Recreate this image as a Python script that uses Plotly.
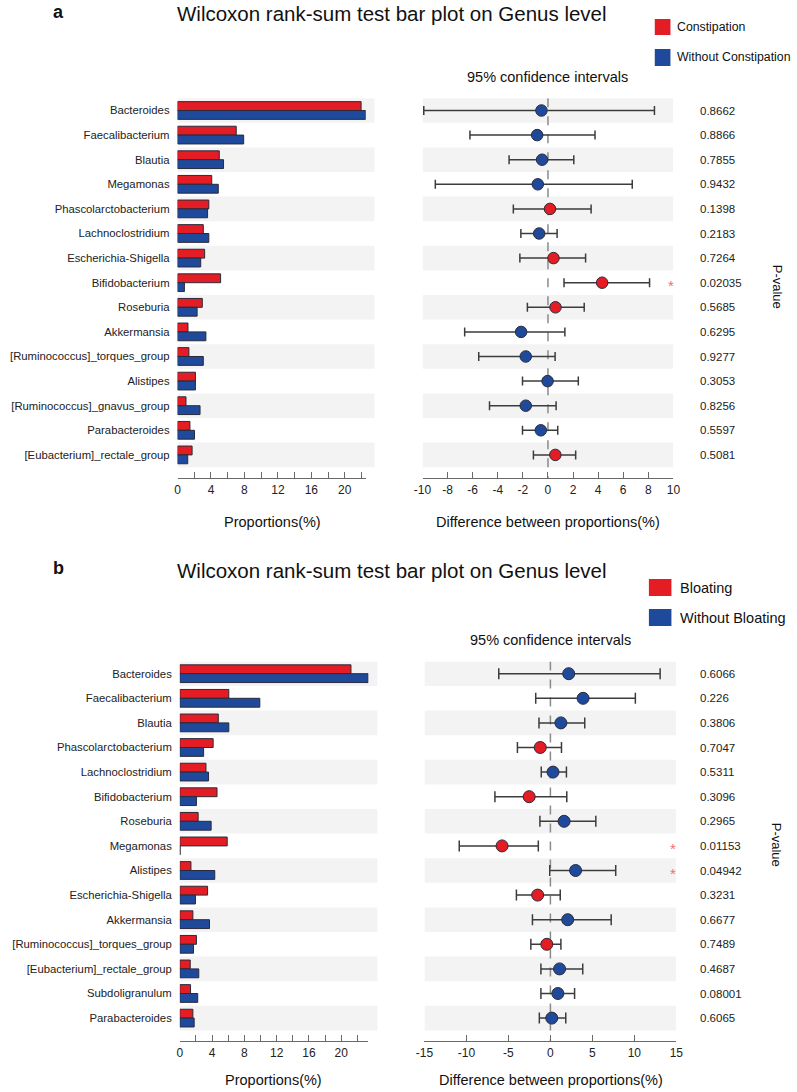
import plotly.graph_objects as go

W, H = 797, 1092
RED = "#e41c24"
BLUE = "#1f4a9c"
EDGE = "#2a2a3a"
STRIPE = "#f3f3f3"
FONT = "Liberation Sans, Arial, sans-serif"

# ---------------- Panel a data ----------------
genus_a = ["Bacteroides", "Faecalibacterium", "Blautia", "Megamonas", "Phascolarctobacterium",
           "Lachnoclostridium", "Escherichia-Shigella", "Bifidobacterium", "Roseburia", "Akkermansia",
           "[Ruminococcus]_torques_group", "Alistipes", "[Ruminococcus]_gnavus_group", "Parabacteroides",
           "[Eubacterium]_rectale_group"]
constipation = [21.95, 7.02, 4.99, 4.09, 3.74, 3.08, 3.24, 5.15, 2.96, 1.25, 1.36, 2.14, 1.01, 1.48, 1.74]
without_constipation = [22.5, 7.91, 5.50, 4.87, 3.59, 3.74, 2.77, 0.82, 2.34, 3.39, 3.08, 2.14, 2.69, 2.03, 1.22]
diff_a = [-0.52, -0.86, -0.47, -0.81, 0.16, -0.70, 0.44, 4.32, 0.60, -2.14, -1.77, -0.03, -1.77, -0.57, 0.59]
low_a = [-9.9, -6.22, -3.10, -8.98, -2.76, -2.16, -2.24, 1.28, -1.64, -6.64, -5.52, -2.03, -4.66, -2.03, -1.16]
high_a = [8.49, 3.75, 2.06, 6.72, 3.44, 0.73, 3.00, 8.10, 2.89, 1.35, 0.57, 2.42, 0.65, 0.78, 2.21]
pval_a = ["0.8662", "0.8866", "0.7855", "0.9432", "0.1398", "0.2183", "0.7264", "0.02035", "0.5685",
          "0.6295", "0.9277", "0.3053", "0.8256", "0.5597", "0.5081"]
sig_a = [7]
bar_ticks_a = [0, 2, 4, 6, 8, 10, 12, 14, 16, 18, 20, 22, 22.5]
bar_labels_a = ["0", "", "4", "", "8", "", "12", "", "16", "", "20", "", ""]
ci_ticks_a = [-10, -8, -6, -4, -2, 0, 2, 4, 6, 8, 10]
ci_labels_a = ["-10", "-8", "-6", "-4", "-2", "0", "2", "4", "6", "8", "10"]

# ---------------- Panel b data ----------------
genus_b = ["Bacteroides", "Faecalibacterium", "Blautia", "Phascolarctobacterium", "Lachnoclostridium",
           "Bifidobacterium", "Roseburia", "Megamonas", "Alistipes", "Escherichia-Shigella", "Akkermansia",
           "[Ruminococcus]_torques_group", "[Eubacterium]_rectale_group", "Subdoligranulum", "Parabacteroides"]
bloating = [21.2, 6.07, 4.77, 4.13, 3.24, 4.61, 2.27, 5.87, 1.38, 3.44, 1.62, 2.06, 1.29, 1.33, 1.62]
without_bloating = [23.34, 9.91, 6.07, 2.95, 3.56, 2.06, 3.88, 0.04, 4.33, 1.94, 3.68, 1.70, 2.35, 2.22, 1.78]
diff_b = [2.18, 3.89, 1.25, -1.21, 0.31, -2.53, 1.63, -5.76, 3.00, -1.52, 2.06, -0.43, 1.09, 0.89, 0.16]
low_b = [-6.15, -1.75, -1.36, -3.93, -1.09, -6.61, -1.25, -10.86, -0.08, -4.05, -2.14, -2.33, -1.13, -1.13, -1.32]
high_b = [13.07, 10.12, 4.09, 1.32, 1.91, 1.95, 5.41, -1.44, 7.78, 1.17, 7.24, 1.25, 3.85, 2.88, 1.83]
pval_b = ["0.6066", "0.226", "0.3806", "0.7047", "0.5311", "0.3096", "0.2965", "0.01153", "0.04942",
          "0.3231", "0.6677", "0.7489", "0.4687", "0.08001", "0.6065"]
sig_b = [7, 8]
bar_ticks_b = [0, 2, 4, 6, 8, 10, 12, 14, 16, 18, 20, 22, 23.35]
bar_labels_b = ["0", "", "4", "", "8", "", "12", "", "16", "", "20", "", ""]
ci_ticks_b = [-15, -10, -5, 0, 5, 10, 15]
ci_labels_b = ["-15", "-10", "-5", "0", "5", "10", "15"]


def px(x):
    return x / W


def py(y):
    return 1 - y / H


fig = go.Figure()
shapes = []
annotations = []


def panel(idx, genus, g1, g2, n1, n2, diff, low, high, pvals, sig, bar_range, bar_ticks, bar_labels,
          ci_range, ci_ticks, ci_labels, pos_is_red, geom):
    xa = "x" if idx == 0 else "x3"
    xc = "x2" if idx == 0 else "x4"
    ya = "y" if idx == 0 else "y2"
    rows = list(range(len(genus)))
    fig.add_trace(go.Bar(y=rows, x=g1, orientation="h", name=n1,
                         marker=dict(color=RED, line=dict(color=EDGE, width=1)),
                         xaxis=xa, yaxis=ya, showlegend=False))
    fig.add_trace(go.Bar(y=rows, x=g2, orientation="h", name=n2,
                         marker=dict(color=BLUE, line=dict(color=EDGE, width=1)),
                         xaxis=xa, yaxis=ya, showlegend=False))
    colors = [RED if ((d > 0) == pos_is_red) else BLUE for d in diff]
    plus = [h - d for h, d in zip(high, diff)]
    minus = [d - l for d, l in zip(diff, low)]
    fig.add_trace(go.Scatter(x=diff, y=rows, mode="markers", xaxis=xc, yaxis=ya, showlegend=False,
                             marker=dict(color=colors, size=geom["msize"], line=dict(color=EDGE, width=1)),
                             error_x=dict(type="data", symmetric=False, array=plus, arrayminus=minus,
                                          color="#3c3c3c", thickness=1.5, width=geom["cap"])))
    for r in rows:
        if r % 2 == 0:
            shapes.append(dict(type="rect", xref="paper", yref=ya, x0=px(geom["bx0"]), x1=px(geom["bstripe"]),
                               y0=r - 0.5, y1=r + 0.5, fillcolor=STRIPE, line=dict(width=0), layer="below"))
            shapes.append(dict(type="rect", xref=xc, yref=ya, x0=ci_range[0], x1=ci_range[1],
                               y0=r - 0.5, y1=r + 0.5, fillcolor=STRIPE, line=dict(width=0), layer="below"))
    shapes.append(dict(type="line", xref=xc, yref=ya, x0=0, x1=0, y0=-0.5, y1=geom["ybot"],
                       line=dict(color="#8a8a8a", width=1.5, dash="dash"), layer="below"))
    for r, p in zip(rows, pvals):
        annotations.append(dict(xref="paper", yref=ya, x=px(geom["pv"]), y=r, text=p, showarrow=False,
                                xanchor="left", font=dict(family=FONT, size=11.5, color="#222")))
    for r in sig:
        annotations.append(dict(xref="paper", yref=ya, x=px(geom["star"]), y=r + 0.12, text="*",
                                showarrow=False, font=dict(family=FONT, size=15, color="#ef6f6f")))
    top, bot = geom["top"], geom["bot"]
    ylay = dict(domain=[py(bot), py(top)], range=[geom["ybot"], -0.5], tickvals=rows, ticktext=genus,
                showgrid=False, zeroline=False, showline=False, ticks="", ticklabelstandoff=7,
                tickfont=dict(family=FONT, size=11.3, color="#222"), anchor=xa)
    xbar = dict(domain=[px(geom["bx0"]), px(geom["bx1"])], range=bar_range, tickvals=bar_ticks,
                ticktext=bar_labels, ticks="inside", ticklen=6, tickcolor="#6a6a6a", showline=True,
                linecolor="#6a6a6a", linewidth=1, showgrid=False, zeroline=False, anchor=ya,
                tickfont=dict(family=FONT, size=12, color="#222"))
    xci = dict(domain=[px(geom["cx0"]), px(geom["cx1"])], range=ci_range, tickvals=ci_ticks,
               ticktext=ci_labels, ticks="inside", ticklen=6, tickcolor="#6a6a6a", showline=True,
               linecolor="#6a6a6a", linewidth=1, showgrid=False, zeroline=False, anchor=ya,
               tickfont=dict(family=FONT, size=12, color="#222"))
    return ylay, xbar, xci


geom_a = dict(top=110.5 - 12.3, bot=110.5 + 14.95 * 24.6, ybot=14.95, bx0=172, bx1=364, bstripe=373,
              cx0=422, cx1=678, msize=11.5, cap=4.5, star=681, pv=703)
geom_b = dict(top=673.7 - 12.3, bot=673.7 + 14.95 * 24.6, ybot=14.95, bx0=174.3, bx1=366.7, bstripe=376,
              cx0=424, cx1=681, msize=12, cap=5.5, star=683, pv=703)

ya_lay, xa_lay, xa2_lay = panel(0, genus_a, constipation, without_constipation, "Constipation",
                                "Without Constipation", diff_a, low_a, high_a, pval_a, sig_a, [0, 22.5],
                                bar_ticks_a, bar_labels_a, [-10, 10], ci_ticks_a, ci_labels_a, True, geom_a)
yb_lay, xb_lay, xb2_lay = panel(1, genus_b, bloating, without_bloating, "Bloating", "Without Bloating",
                                diff_b, low_b, high_b, pval_b, sig_b, [0, 23.35], bar_ticks_b, bar_labels_b,
                                [-15, 15], ci_ticks_b, ci_labels_b, False, geom_b)


def text(x, y, s, size, anchor="center", vanchor="middle", angle=0, bold=False, color="#111"):
    annotations.append(dict(xref="paper", yref="paper", x=px(x), y=py(y),
                            text=("<b>%s</b>" % s) if bold else s,
                            showarrow=False, xanchor=anchor, yanchor=vanchor, textangle=angle,
                            font=dict(family=FONT, size=size, color=color)))


title = "Wilcoxon rank-sum test bar plot on Genus level"
# panel a headings
text(51, 0, "a", 18, vanchor="top", bold=True)
text(391, 0, title, 20.5, vanchor="top")
shapes.append(dict(type="rect", xref="paper", yref="paper", x0=px(659), x1=px(675), y0=py(35), y1=py(19),
                   fillcolor=RED, line=dict(width=0)))
shapes.append(dict(type="rect", xref="paper", yref="paper", x0=px(659), x1=px(675), y0=py(66), y1=py(49),
                   fillcolor=BLUE, line=dict(width=0)))
text(680, 27, "Constipation", 12.3, anchor="left")
text(680, 57, "Without Constipation", 12.3, anchor="left")
text(550, 77, "95% confidence intervals", 14.5)
text(784, 287, "P-value", 13, angle=90)
text(269, 522, "Proportions(%)", 14.5)
text(550, 522, "Difference between proportions(%)", 14.5)

# panel b headings
text(51, 556, "b", 18, vanchor="top", bold=True)
text(391, 557, title, 20.5, vanchor="top")
shapes.append(dict(type="rect", xref="paper", yref="paper", x0=px(653), x1=px(676), y0=py(596), y1=py(579),
                   fillcolor=RED, line=dict(width=0)))
shapes.append(dict(type="rect", xref="paper", yref="paper", x0=px(653), x1=px(676), y0=py(626), y1=py(609),
                   fillcolor=BLUE, line=dict(width=0)))
text(683, 588, "Bloating", 14.5, anchor="left")
text(683, 618, "Without Bloating", 14.5, anchor="left")
text(553, 640, "95% confidence intervals", 14.5)
text(784, 845, "P-value", 13, angle=90)
text(270, 1080, "Proportions(%)", 14.5)
text(553, 1080, "Difference between proportions(%)", 14.5)

fig.update_layout(
    width=W, height=H, margin=dict(l=0, r=0, t=0, b=0),
    paper_bgcolor="white", plot_bgcolor="rgba(0,0,0,0)",
    barmode="group", bargap=0.28, bargroupgap=0,
    xaxis=xa_lay, xaxis2=xa2_lay, yaxis=ya_lay,
    xaxis3=xb_lay, xaxis4=xb2_lay, yaxis2=yb_lay,
    shapes=shapes, annotations=annotations,
    font=dict(family=FONT, color="#222"),
)

fig.write_html("out.html", config={"displayModeBar": False},
               post_script="document.body.style.margin='0';document.body.style.padding='0';")
